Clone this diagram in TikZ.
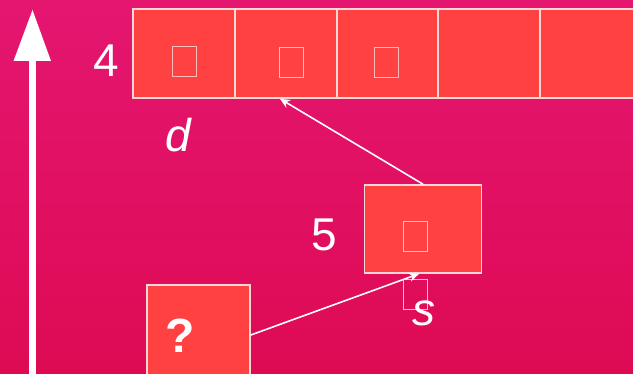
\documentclass[tikz,border=0pt]{standalone}
\usepackage{fontspec}
\setmainfont{Liberation Sans}
\usetikzlibrary{arrows.meta}
\definecolor{bgtop}{RGB}{228,22,112}
\definecolor{bgbot}{RGB}{222,10,84}
\definecolor{boxfill}{RGB}{255,65,65}
\definecolor{boxline}{RGB}{255,215,215}
\definecolor{tofuline}{RGB}{255,190,190}
\tikzset{
  cell/.style={draw=boxline, line width=1.6pt, fill=boxfill, minimum width=102pt, minimum height=89pt, inner sep=0pt},
  tofu/.style={draw=tofuline, line width=1pt, minimum width=24pt, minimum height=30pt, inner sep=0pt},
  lbl/.style={text=white, font=\fontsize{46}{46}\selectfont, inner sep=0pt},
  conn/.style={draw=white, line width=1.6pt, -{Stealth[length=10pt,width=9pt]}},
}
\begin{document}
\begin{tikzpicture}[x=1pt,y=-1pt]
\useasboundingbox (0,0) rectangle (633,374);
\clip (0,0) rectangle (633,374);
\shade[top color=bgtop, bottom color=bgbot] (0,0) rectangle (633,374);
% big vertical arrow
\fill[white] (29,374) rectangle (36,60);
\fill[white] (13.5,61) -- (51,61) -- (32.5,10) -- cycle;
% top array
\node[cell] (c1) at (184,53.5) {};
\node[cell] (c2) at (286,53.5) {};
\node[cell] (c3) at (388,53.5) {};
\node[cell] (c4) at (489,53.5) {};
\node[cell] (c5) at (591,53.5) {};
\node[tofu] (t1) at (184,61.5) {};
\node[tofu] (t2) at (291,62.5) {};
\node[tofu] (t3) at (386,62.5) {};
\node[lbl] (four) at (106,61) {4};
\node[lbl] (d) at (178,135) {\itshape d};
% middle box
\node[cell, minimum width=117pt, minimum height=88pt] (b5) at (423,229) {};
\node[tofu] (t5) at (415.5,236.5) {};
\node[lbl] (five) at (324,235) {5};
\node[tofu] (t6) at (415.5,294.5) {};
\node[lbl] (s) at (424,313) {\itshape s};
% question box
\node[cell, minimum width=103pt, minimum height=100pt] (q) at (198.5,335) {};
\node[lbl, font=\fontsize{48}{48}\selectfont\bfseries] (qm) at (180,336) {?};
% connectors
\draw[conn] (q.east) -- ([xshift=-4pt]b5.south);
\draw[conn] (b5.north) -- ([xshift=-6pt]c2.south);
\end{tikzpicture}
\end{document}
